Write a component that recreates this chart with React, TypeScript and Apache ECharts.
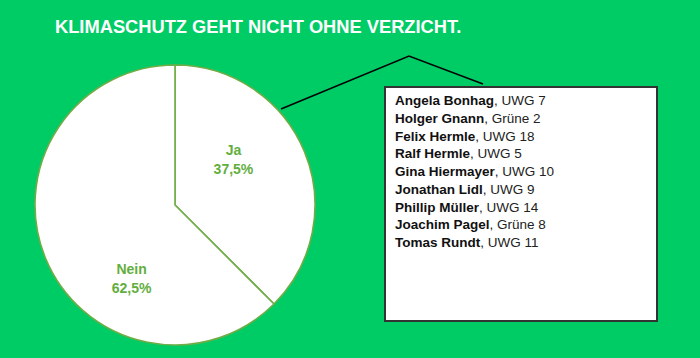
import React, { useEffect, useRef } from "react";
import * as echarts from "echarts";

const titleText = "KLIMASCHUTZ GEHT NICHT OHNE VERZICHT.";
const categories = ["Ja", "Nein"];
const values = [37.5, 62.5];
const valueLabels = ["37,5%", "62,5%"];
const names = [
  "Angela Bonhag",
  "Holger Gnann",
  "Felix Hermle",
  "Ralf Hermle",
  "Gina Hiermayer",
  "Jonathan Lidl",
  "Phillip Müller",
  "Joachim Pagel",
  "Tomas Rundt",
];
const parties = ["UWG 7", "Grüne 2", "UWG 18", "UWG 5", "UWG 10", "UWG 9", "UWG 14", "Grüne 8", "UWG 11"];

const labelShift = [
  [-9, -18],
  [24, 46],
];

export default function App() {
  const ref = useRef<HTMLDivElement>(null);
  useEffect(() => {
    if (!ref.current) return;
    const chart = echarts.init(ref.current, null, { renderer: "svg" });
    const boxText = names.map((n, i) => `{b|${n}}{r|, ${parties[i]}}`).join("\n");
    chart.setOption({
      animation: false,
      backgroundColor: "#00CC66",
      title: {
        text: titleText,
        left: 55,
        top: 17,
        padding: 0,
        textStyle: {
          color: "#ffffff",
          fontFamily: "Liberation Sans",
          fontWeight: "bold",
          fontSize: 18.3,
        },
      },
      series: [
        {
          type: "pie",
          center: [175, 205],
          radius: 140,
          startAngle: 90,
          clockwise: true,
          silent: true,
          itemStyle: { color: "#ffffff", borderColor: "#70AD47", borderWidth: 1.6 },
          label: {
            show: true,
            position: "inside",
            color: "#62AE3E",
            fontFamily: "Liberation Sans",
            fontWeight: "bold",
            fontSize: 14,
            lineHeight: 19,
            align: "center",
            formatter: (p: any) => `${p.name}\n${valueLabels[p.dataIndex]}`,
          },
          labelLine: { show: false },
          labelLayout: (p: any) => ({ dx: labelShift[p.dataIndex][0], dy: labelShift[p.dataIndex][1] }),
          data: categories.map((c, i) => ({ name: c, value: values[i] })),
        },
      ],
      graphic: [
        {
          type: "polyline",
          shape: { points: [[281, 109], [409, 56], [483, 84]] },
          style: { stroke: "#000000", lineWidth: 1.5, fill: null },
        },
        {
          type: "rect",
          shape: { x: 385, y: 87, width: 272, height: 234 },
          style: { fill: "#ffffff", stroke: "#333333", lineWidth: 2 },
        },
        {
          type: "text",
          x: 395,
          y: 92,
          style: {
            text: boxText,
            fill: "#111111",
            rich: {
              b: { fontFamily: "Liberation Sans", fontWeight: "bold", fontSize: 13.5, lineHeight: 17.7, fill: "#111111" },
              r: { fontFamily: "Liberation Sans", fontSize: 13.5, lineHeight: 17.7, fill: "#222222" },
            },
          },
        },
      ],
    });
    return () => chart.dispose();
  }, []);
  return (
    <div
      ref={ref}
      style={{ position: "absolute", left: 0, top: 0, width: 700, height: 358 }}
    />
  );
}
